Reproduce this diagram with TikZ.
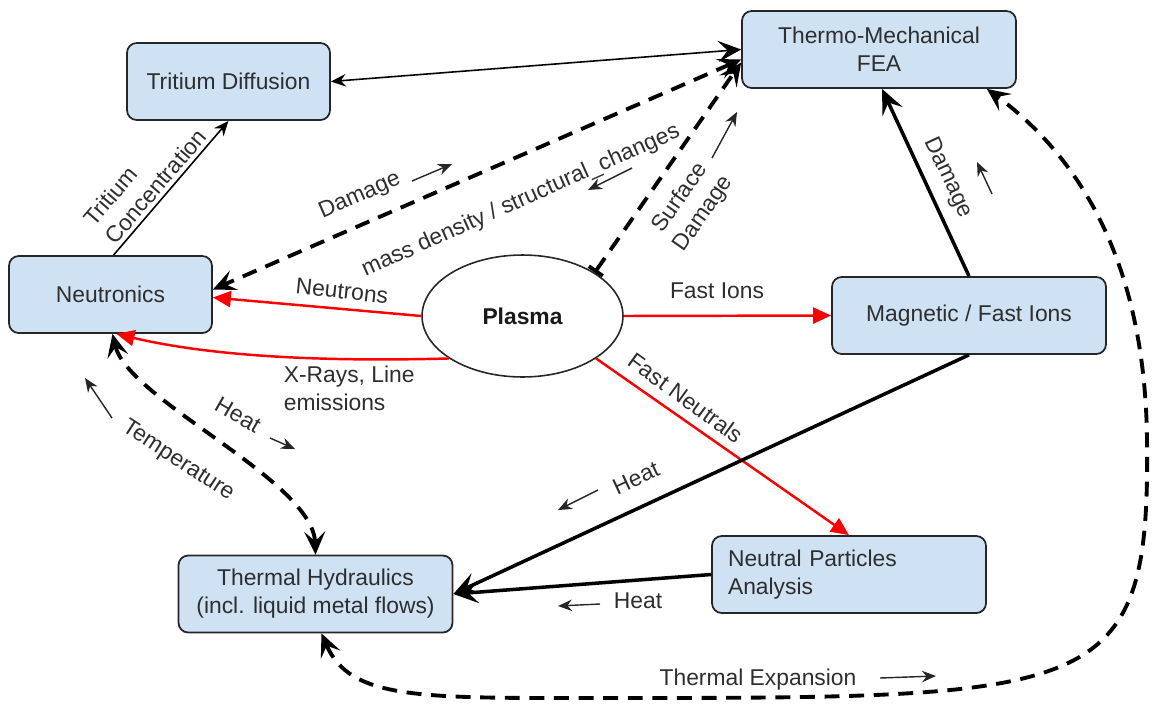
\documentclass[tikz,border=0pt]{standalone}
\usepackage{fontspec}
\setmainfont{Liberation Sans}
\usepackage{xcolor}
\usepackage{tikz}
\usetikzlibrary{arrows.meta, positioning, calc, shapes.geometric}
\definecolor{mybluefill}{HTML}{CFE2F3}
\definecolor{myborder}{HTML}{262626}
\definecolor{mytext}{HTML}{2E2E2E}
\definecolor{myred}{HTML}{FF0000}
\newcommand{\diagfont}{\fontsize{13}{16}\selectfont}
\tikzset{
module/.style={
draw=myborder,
fill=mybluefill,
rounded corners=5.5pt,
line width=1pt,
minimum height=1.54cm,
minimum width=5.48cm,
text=mytext,
inner sep=3pt
},
moduleSmall/.style={
module,
minimum width=4.06cm
},
plasmabox/.style={
ellipse,
draw=black!85,
line width=0.9pt,
minimum width=4.02cm,
minimum height=2.44cm,
text=black!90,
font=\diagfont\bfseries
},
edgetext/.style={
text=mytext,
inner sep=2pt
},
hint/.style={
-{Stealth[length=2.8mm,width=2.3mm]},
line width=0.8pt,
draw=black!85
}
}

\begin{document}
\begin{tikzpicture}[
x=0.02cm, y=-0.02cm,
>=Stealth,
font=\diagfont,
every node/.style={align=center}
]

\tikzset{
  heavyflow/.style={
    -{Stealth[length=5mm,width=4.4mm,inset=2mm]},
    line width=2pt,
    draw=black
  },
  lightflow/.style={
    -{Stealth[length=3mm,width=2.5mm,inset=1mm]},
    line width=0.9pt,
    draw=black
  },
  redflow/.style={
    -{Triangle[length=3.6mm,width=3.2mm]},
    line width=1.4pt,
    draw=myred
  },
  dashflow/.style={
    {Stealth[length=4.6mm,width=4.2mm,inset=1.9mm]}-{Stealth[length=4.6mm,width=4.2mm,inset=1.9mm]},
    line width=2.2pt,
    dash pattern=on 8.5pt off 5.5pt,
    draw=black
  }
}

\useasboundingbox (0,0) rectangle (1152,703);

\node[moduleSmall] (trit) at (228.5,81.5) {Tritium Diffusion};
\node[module] (fea) at (879,49.5) {Thermo-Mechanical\\FEA};
\node[moduleSmall] (neut) at (110.5,294.5) {Neutronics};
\node[plasmabox] (plasma) at (522.5,316) {Plasma};
\node[module] (mag) at (969,315.5) {Magnetic / Fast Ions};
\node[module] (th) at (315.5,594) {Thermal Hydraulics\\(incl. liquid metal flows)};
\node[module, text width=4.84cm, align=left] (npa) at (849,574.5) {Neutral Particles\\Analysis};

\node[edgetext, rotate=23.5] (lblDmgN) at (360,196) {Damage};
\node[edgetext, rotate=24] (lblMass) at (521,201) {mass density / structural\_changes};
\node[edgetext, rotate=55] (lblSurf) at (692,206) {Surface\\Damage};
\node[edgetext, rotate=-6] (lblNeutrons) at (342,291) {Neutrons};
\node[edgetext, align=left, anchor=west] (lblXray) at (280,388) {X-Rays, Line\\emissions};
\node[edgetext] (lblFastIons) at (717,291) {Fast Ions};
\node[edgetext, rotate=-36] (lblFastNeut) at (686,398) {Fast Neutrals};
\node[edgetext, rotate=-65] (lblDmgM) at (948,178) {Damage};
\node[edgetext, rotate=25] (lblHeatM) at (636,478) {Heat};
\node[edgetext] (lblHeatN) at (638,601) {Heat};
\node[edgetext, rotate=-30] (lblHeatT) at (238,415) {Heat};
\node[edgetext, rotate=-33] (lblTemp) at (178,461) {Temperature};
\node[edgetext] (lblExp) at (758,680) {Thermal Expansion};

\draw[lightflow, {Stealth[length=3mm,width=2.5mm,inset=1mm]}-{Stealth[length=4.6mm,width=4.2mm,inset=1.9mm]}]
  (trit.east) -- (fea.west);
\draw[lightflow] ($(neut.north)+(3,0)$) --
  node[edgetext, sloped, above, align=left, pos=0.45] (lblTrit) {Tritium\\Concentration} (trit.south);

\draw[dashflow] ($(fea.west)+(0,10)$) -- ($(neut.east)+(0,-5)$);
\draw[dashflow, {Bar[width=3.4mm]}-{Stealth[length=4.6mm,width=4.2mm,inset=1.9mm]}]
  (plasma.31) -- ($(fea.west)+(0,13)$);

\draw[redflow] (plasma.west) -- ($(neut.east)+(0,3)$);
\draw[redflow] (plasma.210) .. controls (320,362) and (210,356) .. ($(neut.south)+(6,0)$);
\draw[redflow] (plasma.east) -- (mag.west);
\draw[redflow] (plasma.-30) -- (npa.north);

\draw[heavyflow] (mag.north) -- ($(fea.south)+(3,0)$);
\draw[heavyflow] (mag.south) -- (th.east);
\draw[heavyflow] (npa.west) -- (th.east);

\draw[dashflow] ($(neut.south)+(2,0)$) .. controls (128,400) and (313,480) .. (th.north);
\draw[dashflow] ($(th.south)+(6,0)$) .. controls (350,700) and (420,698) .. (600,698)
  .. controls (1100,698) and (1150,698) .. (1147,440)
  .. controls (1145,250) and (1070,150) .. ($(fea.south east)+(-30,0)$);

\draw[hint] ([shift={(52,-15)}]lblDmgN.center) -- ++(40,-17);
\draw[hint] ([shift={(111,-33)}]lblMass.center) -- ++(-44,22);
\draw[hint] ([shift={(20,-48)}]lblSurf.center) -- ++(25,-46);
\draw[hint] ([shift={(44,16)}]lblDmgM.center) -- ++(-15,-32);
\draw[hint] ([shift={(-38,12)}]lblHeatM.center) -- ++(-40,20);
\draw[hint] ([shift={(-38,3)}]lblHeatN.center) -- ++(-42,2);
\draw[hint] ([shift={(32,23)}]lblHeatT.center) -- ++(25,11);
\draw[hint] ([shift={(-66,-43)}]lblTemp.center) -- ++(-27,-40);
\draw[hint] ([shift={(122,-2)}]lblExp.center) -- ++(56,-2);

\end{tikzpicture}
\end{document}
